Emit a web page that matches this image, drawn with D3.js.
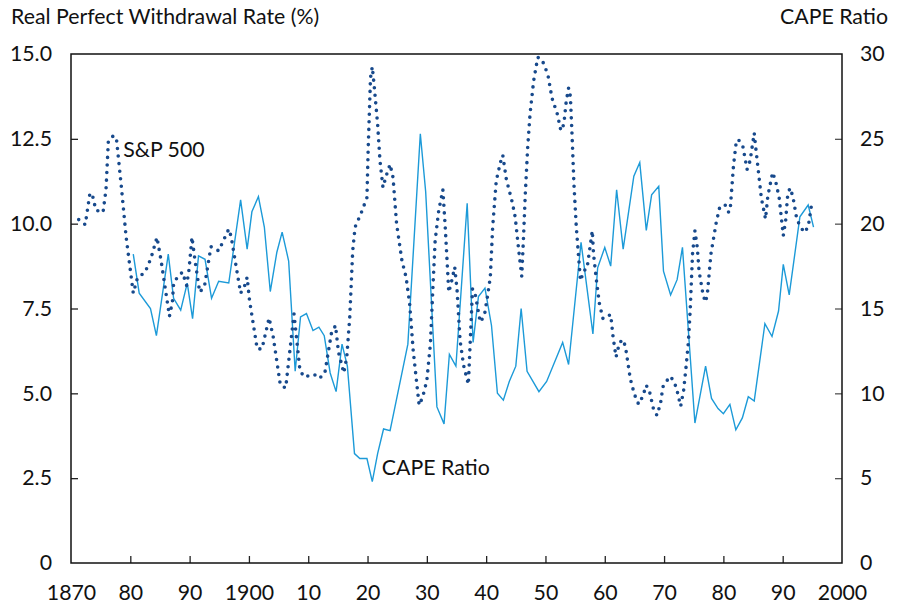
<!DOCTYPE html>
<html>
<head>
<meta charset="utf-8">
<script src="https://cdn.jsdelivr.net/npm/d3@7"></script>
<style>
  body { margin: 0; background: #fff; }
  text { font-family: Lato, "Open Sans", sans-serif; fill: #111; }
</style>
</head>
<body>
<div id="chart-area"></div>
<script>

// Real perfect withdrawal rate (%), S&P 500  [year, rate]
let withdrawal = [
  [1871.3, 10.12], [1872.4, 9.97], [1873.2, 10.9], [1873.6, 10.85], [1874.2, 10.4],
  [1875.4, 10.33], [1875.9, 11.0], [1876.3, 12.44], [1877.2, 12.6], [1877.7, 12.44],
  [1878.5, 11.07], [1879.3, 9.6], [1880.5, 7.95], [1881.2, 8.4], [1882.5, 8.57],
  [1883.5, 8.99], [1884.5, 9.6], [1885.2, 8.9], [1886.6, 7.27], [1887.1, 7.7],
  [1887.3, 8.24], [1888.0, 8.44], [1888.8, 8.57], [1889.5, 8.18], [1889.9, 8.65],
  [1890.4, 9.6], [1890.9, 8.93], [1891.7, 7.98], [1892.5, 8.15], [1893.6, 9.32],
  [1894.9, 9.2], [1896.6, 9.84], [1897.0, 9.62], [1898.1, 8.47], [1898.6, 7.95],
  [1899.3, 8.18], [1899.7, 8.42], [1900.1, 7.74], [1901.4, 6.31], [1902.2, 6.31],
  [1903.4, 7.22], [1904.1, 6.66], [1905.3, 5.24], [1906.2, 5.16], [1907.6, 7.34],
  [1908.6, 5.68], [1909.3, 5.48], [1911.0, 5.56], [1911.9, 5.44], [1912.8, 5.6],
  [1913.9, 6.76], [1914.6, 7.0], [1915.1, 6.21], [1916.0, 5.6], [1916.5, 6.07],
  [1917.0, 7.24], [1917.5, 9.2], [1917.9, 9.9], [1918.9, 10.3], [1919.9, 10.77],
  [1920.1, 12.15], [1920.5, 14.3], [1920.8, 14.62], [1921.1, 14.1], [1921.7, 12.93],
  [1922.1, 11.85], [1922.6, 11.07], [1923.2, 11.44], [1923.8, 11.75], [1924.3, 11.36],
  [1924.9, 9.99], [1925.8, 8.91], [1926.5, 8.42], [1927.1, 7.64], [1927.7, 6.26],
  [1928.3, 5.29], [1928.7, 4.65], [1929.3, 4.89], [1930.0, 5.38], [1930.6, 6.46],
  [1931.0, 8.03], [1931.4, 9.5], [1932.0, 10.38], [1932.7, 11.0], [1933.1, 9.9],
  [1933.7, 7.98], [1934.2, 8.32], [1934.7, 8.72], [1935.1, 8.03], [1935.6, 6.56],
  [1936.2, 5.82], [1937.0, 5.26], [1937.3, 6.46], [1937.7, 8.08], [1938.2, 7.88],
  [1939.0, 7.1], [1939.7, 7.29], [1940.2, 7.83], [1940.7, 8.42], [1941.1, 9.9],
  [1941.7, 11.26], [1942.4, 11.8], [1942.8, 12.02], [1943.4, 11.31], [1944.4, 10.63],
  [1944.9, 10.19], [1945.5, 9.2], [1946.0, 8.45], [1946.3, 9.6], [1946.6, 10.87],
  [1947.0, 12.24], [1947.4, 13.23], [1948.0, 14.2], [1948.7, 14.9], [1949.4, 14.84],
  [1950.4, 14.4], [1951.1, 13.7], [1952.0, 13.23], [1952.6, 12.74], [1953.1, 12.93],
  [1953.5, 13.6], [1953.9, 14.0], [1954.2, 13.76], [1954.5, 12.54], [1954.8, 11.17],
  [1955.2, 9.9], [1955.9, 8.32], [1956.5, 8.62], [1957.0, 8.67], [1957.9, 9.79],
  [1958.1, 9.11], [1958.6, 8.32], [1959.1, 7.64], [1959.7, 7.2], [1961.0, 7.32],
  [1961.4, 6.66], [1961.9, 6.07], [1962.5, 6.5], [1963.1, 6.58], [1963.5, 6.36],
  [1964.3, 5.43], [1965.0, 4.97], [1965.7, 4.68], [1966.4, 4.91], [1967.0, 5.24],
  [1967.6, 5.01], [1968.2, 4.55], [1968.8, 4.35], [1969.4, 4.7], [1969.8, 5.19],
  [1970.4, 5.36], [1971.1, 5.5], [1971.8, 5.29], [1972.2, 5.07], [1972.8, 4.62],
  [1973.3, 5.09], [1973.7, 5.77], [1974.1, 6.51], [1974.4, 7.44], [1974.8, 9.11],
  [1975.2, 9.79], [1975.6, 9.3], [1975.9, 8.6], [1976.6, 7.88], [1977.0, 7.69],
  [1977.3, 7.93], [1977.9, 9.11], [1978.8, 10.04], [1979.4, 10.5], [1980.3, 10.55],
  [1980.9, 10.33], [1981.2, 10.53], [1981.7, 11.7], [1982.2, 12.46], [1982.6, 12.46],
  [1983.3, 12.26], [1984.0, 11.6], [1984.5, 11.85], [1985.2, 12.67], [1985.5, 12.17],
  [1986.4, 10.76], [1987.1, 10.14], [1987.5, 10.82], [1988.3, 11.51], [1988.8, 11.26],
  [1989.4, 10.77], [1990.1, 9.65], [1990.5, 10.09], [1990.8, 10.77], [1991.2, 11.05],
  [1991.7, 10.82], [1992.4, 10.11], [1993.6, 9.74], [1994.3, 9.9], [1994.9, 10.6]
];

// CAPE ratio  [year, ratio]
let cape = [
  [1880.5, 18.2], [1881.5, 15.9], [1883.4, 15.0], [1884.4, 13.4], [1886.4, 18.2],
  [1887.3, 15.6], [1888.5, 14.9], [1889.6, 16.5], [1890.5, 14.4], [1891.5, 18.1],
  [1892.6, 17.9], [1893.7, 15.6], [1894.9, 16.6], [1896.6, 16.5], [1898.6, 21.4],
  [1899.7, 18.5], [1900.5, 20.7], [1901.6, 21.6], [1902.6, 19.8], [1903.6, 16.0],
  [1904.7, 18.3], [1905.6, 19.5], [1906.7, 17.8], [1907.8, 11.3], [1908.7, 14.5],
  [1909.7, 14.7], [1910.8, 13.7], [1911.8, 13.9], [1912.7, 13.4], [1913.7, 11.2],
  [1914.7, 10.1], [1915.7, 12.9], [1916.6, 11.6], [1917.8, 6.45], [1918.7, 6.16],
  [1919.9, 6.16], [1920.8, 4.8], [1921.7, 6.45], [1922.7, 7.9], [1923.8, 7.8],
  [1926.8, 12.9], [1928.9, 25.3], [1929.8, 21.9], [1931.7, 9.2], [1932.9, 8.2],
  [1933.8, 12.3], [1934.9, 11.6], [1936.8, 21.2], [1937.8, 13.0], [1938.7, 15.7],
  [1939.8, 16.2], [1940.9, 14.0], [1941.9, 10.0], [1942.9, 9.6], [1943.9, 10.7],
  [1945.0, 11.6], [1945.9, 15.0], [1946.9, 11.3], [1948.9, 10.1], [1950.2, 10.7],
  [1952.9, 13.0], [1953.9, 11.7], [1956.0, 18.9], [1958.0, 13.5], [1958.8, 17.4],
  [1960.0, 18.6], [1961.0, 17.5], [1962.0, 22.0], [1963.1, 18.5], [1964.9, 22.8],
  [1965.9, 23.6], [1967.0, 19.6], [1967.9, 21.7], [1969.1, 22.2], [1969.9, 17.2],
  [1971.1, 15.8], [1972.2, 16.7], [1973.1, 18.6], [1975.2, 8.25], [1977.0, 11.6],
  [1978.0, 9.7], [1979.1, 9.1], [1980.0, 8.8], [1981.1, 9.35], [1982.1, 7.85],
  [1983.2, 8.55], [1984.2, 9.8], [1985.2, 9.55], [1987.0, 14.1], [1988.2, 13.35],
  [1989.3, 14.85], [1990.1, 17.6], [1991.1, 15.8], [1992.9, 20.4], [1994.3, 21.1],
  [1995.2, 19.8]
];

let xTicks = [1870, 1880, 1890, 1900, 1910, 1920, 1930, 1940, 1950, 1960, 1970, 1980, 1990, 2000];
let xTickLabels = ["1870", "80", "90", "1900", "10", "20", "30", "40", "50", "60", "70", "80", "90", "2000"];
let leftTicks = [0, 2.5, 5, 7.5, 10, 12.5, 15];
let leftTickLabels = ["0", "2.5", "5.0", "7.5", "10.0", "12.5", "15.0"];
let rightTicks = [0, 5, 10, 15, 20, 25, 30];

let margin = {top: 54, right: 60, bottom: 44, left: 71};
let width = 902 - margin.left - margin.right;
let height = 607 - margin.top - margin.bottom;

let fontSize = "21.3px";

let svg = d3.select("#chart-area").append("svg")
    .attr("width", 902)
    .attr("height", 607)
    .append("g")
    .attr("transform", "translate(" + margin.left + "," + margin.top + ")");

let x = d3.scaleLinear().domain([1870, 2000]).range([0, width]);
let y = d3.scaleLinear().domain([0, 15]).range([height, 0]);
let y2 = d3.scaleLinear().domain([0, 30]).range([height, 0]);

// axes, ticks pointing inward
let xAxis = d3.axisBottom(x)
    .tickValues(xTicks)
    .tickSizeInner(-7).tickSizeOuter(0).tickPadding(22)
    .tickFormat((d, i) => xTickLabels[i]);

let yAxis = d3.axisLeft(y)
    .tickValues(leftTicks)
    .tickSizeInner(-7).tickSizeOuter(0).tickPadding(19)
    .tickFormat((d, i) => leftTickLabels[i]);

let yAxis2 = d3.axisRight(y2)
    .tickValues(rightTicks)
    .tickSizeInner(-7).tickSizeOuter(0).tickPadding(18)
    .tickFormat(d3.format("d"));

let xg = svg.append("g").attr("transform", "translate(0," + height + ")").call(xAxis);
let yg = svg.append("g").call(yAxis);
let y2g = svg.append("g").attr("transform", "translate(" + width + ",0)").call(yAxis2);

[xg, yg, y2g].forEach(g => {
    g.select(".domain").remove();
    g.selectAll("text").style("font-size", fontSize).style("font-family", "Lato").attr("fill", "#111");
    g.selectAll("line").attr("stroke", "#222").attr("stroke-width", 1.3);
});
// no tick marks on the frame edges
xg.selectAll(".tick").filter(d => d === 1870 || d === 2000).select("line").remove();
yg.selectAll(".tick").filter(d => d === 0 || d === 15).select("line").remove();
y2g.selectAll(".tick").filter(d => d === 0 || d === 30).select("line").remove();
y2g.selectAll("line").attr("stroke", "#555");

// frame
svg.append("rect")
    .attr("x", 0).attr("y", 0)
    .attr("width", width).attr("height", height)
    .attr("fill", "none")
    .attr("stroke", "#111")
    .attr("stroke-width", 1.5);

let capeLine = d3.line()
    .x(d => x(d[0]))
    .y(d => y2(d[1]));

let rateLine = d3.line()
    .x(d => x(d[0]))
    .y(d => y(d[1]));

svg.append("path")
    .datum(cape)
    .attr("d", capeLine)
    .attr("fill", "none")
    .attr("stroke", "#1c9ad8")
    .attr("stroke-width", 1.4)
    .attr("stroke-linejoin", "miter");

svg.append("path")
    .datum(withdrawal)
    .attr("d", rateLine)
    .attr("fill", "none")
    .attr("stroke", "#17498c")
    .attr("stroke-width", 3.6)
    .attr("stroke-linecap", "round")
    .attr("stroke-dasharray", "0 7.6");

// series labels
svg.append("text")
    .attr("x", x(1878.8))
    .attr("y", y(11.96))
    .style("font-size", fontSize)
    .text("S&P 500");

svg.append("text")
    .attr("x", x(1922.4))
    .attr("y", y2(5.18))
    .style("font-size", fontSize)
    .text("CAPE Ratio");

// axis titles
d3.select("svg").append("text")
    .attr("x", 11)
    .attr("y", 24)
    .style("font-size", fontSize)
    .text("Real Perfect Withdrawal Rate (%)");

d3.select("svg").append("text")
    .attr("x", 888)
    .attr("y", 24)
    .attr("text-anchor", "end")
    .style("font-size", fontSize)
    .text("CAPE Ratio");

</script>
</body>
</html>
